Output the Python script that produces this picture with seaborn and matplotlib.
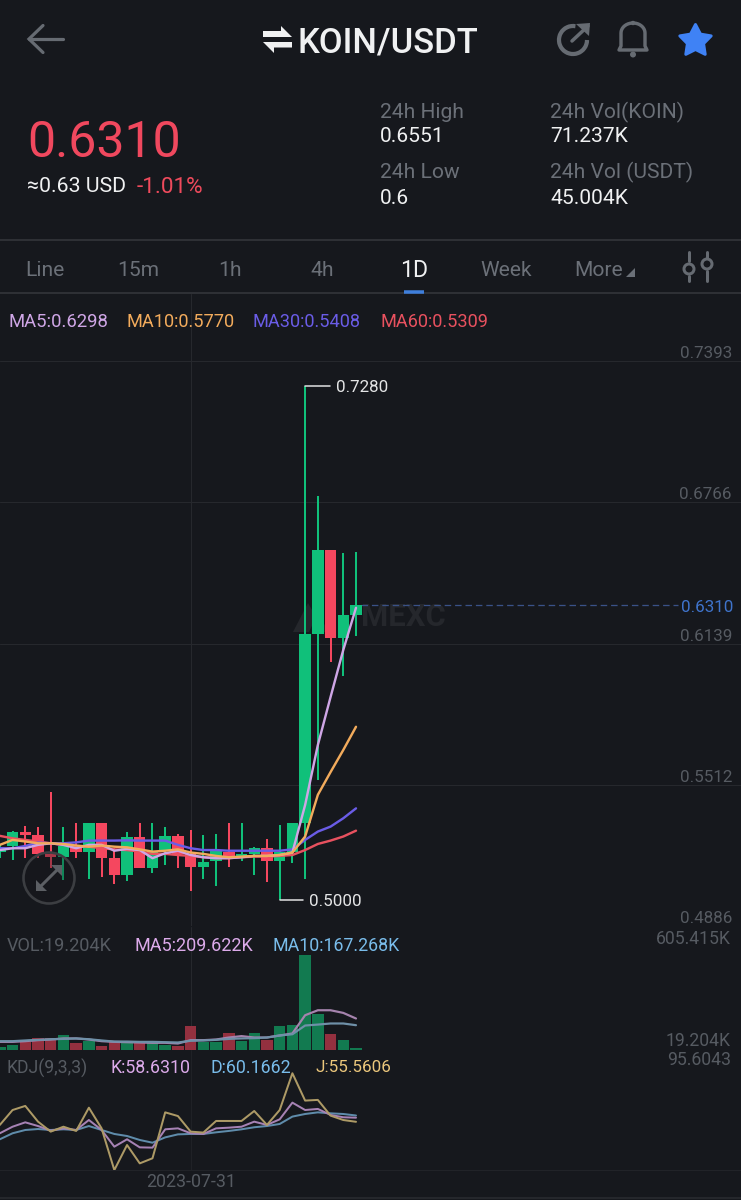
import numpy as np
import pandas as pd
import matplotlib
matplotlib.use("Agg")
import matplotlib.pyplot as plt
from matplotlib.patches import Circle, Polygon, Arc
import seaborn as sns

# ---------- data ----------
opens  = [.5216,.5243,.5302,.5290,.5206,.5194,.5231,.5213,.5345,.5187,.5114,.5280,.5144,.5220,.5287,.5206,.5150,.5173,.5216,.5187,.5206,.5231,.5176,.5216,.5345,.6182,.6554,.6164,.6266]
closes = [.5238,.5305,.5290,.5206,.5194,.5243,.5213,.5345,.5187,.5114,.5280,.5144,.5220,.5287,.5206,.5150,.5172,.5223,.5187,.5206,.5231,.5176,.5216,.5345,.6182,.6554,.6164,.6266,.6310]
highs  = [.5245,.5309,.5331,.5324,.5479,.5324,.5345,.5345,.5345,.5231,.5305,.5345,.5345,.5324,.5293,.5312,.5290,.5293,.5345,.5345,.5238,.5274,.5334,.5345,.7280,.6794,.6554,.6543,.6546]
lows   = [.5187,.5179,.5187,.5187,.5142,.5090,.5187,.5093,.5102,.5073,.5087,.5144,.5123,.5155,.5144,.5043,.5096,.5064,.5147,.5176,.5112,.5083,.5000,.5167,.5093,.5534,.6058,.5995,.6173]
ma5  = [.5223,.5231,.5231,.5246,.5253,.5246,.5231,.5246,.5246,.5220,.5228,.5223,.5187,.5209,.5220,.5201,.5191,.5187,.5187,.5191,.5197,.5197,.5201,.5212,.5423,.5689,.5902,.6111,.6298]
ma10 = [.5246,.5268,.5261,.5253,.5253,.5250,.5243,.5238,.5243,.5238,.5235,.5226,.5216,.5220,.5226,.5212,.5206,.5197,.5191,.5194,.5197,.5197,.5201,.5212,.5283,.5468,.5569,.5667,.5770]
ma30 = [.5231,.5231,.5241,.5256,.5253,.5253,.5257,.5265,.5265,.5265,.5266,.5265,.5265,.5265,.5246,.5231,.5223,.5223,.5220,.5220,.5220,.5220,.5220,.5226,.5268,.5305,.5327,.5364,.5408]
ma60 = [.5286,.5275,.5268,.5261,.5253,.5246,.5241,.5238,.5231,.5226,.5223,.5216,.5206,.5206,.5201,.5197,.5191,.5187,.5187,.5191,.5194,.5194,.5197,.5201,.5223,.5250,.5265,.5283,.5309]
volume = [15,30,49,77,77,90,39,56,21,49,43,43,43,28,21,154,49,49,103,54,103,64,152,156,605.415,227,98,58,8]
vol_ma5  = [49,49,53.5,60,64,71,71,64,53.5,49,47,45,43,43,38.5,60,60,64,77,86,77,77,90,103,220,252,252,235,199]
vol_ma10 = [53.5,53.5,58,62,66,68,71,66,58,51,51,49,49,47,45,56,58,62,68,71,73,77,90,98,154,160,167,167,156]
kdj_j = [53.3,64.2,67.2,55.7,48.4,52.0,48.9,65.9,50.8,20.3,38.6,25.2,28.9,62.5,59.8,48.4,47.7,56.2,56.2,56.2,63.5,53.3,64.2,91.1,71.1,71.6,60.1,56.9,55.6]
kdj_k = [47.2,52.0,55.2,52.5,49.1,50.8,49.6,56.9,49.6,37.4,42.8,36.9,36.7,50.1,50.8,47.2,46.7,50.8,51.3,52.0,55.7,53.3,57.4,69.6,64.2,65.0,60.6,58.9,58.6]
kdj_d = [42.8,47.2,49.6,50.3,49.6,50.1,49.6,52.5,49.6,46.7,45.2,42.3,40.3,44.2,46.4,46.7,46.7,47.9,48.9,50.1,51.6,52.5,54.0,59.4,61.3,62.5,61.8,61.3,60.2]
price_ticks = [0.4886, 0.5512, 0.6139, 0.6766, 0.7393]
date_index = 15
date_label = "2023-07-31"

# ---------- colours ----------
BG = "#16181d"; LINE = "#26282d"; SEP = "#2e3035"
GREEN = "#10c07a"; RED = "#f5475f"; VGREEN = "#127a50"; VRED = "#94303f"
GREY = "#6b7078"; AXT = "#565b62"; WHITE = "#f0f1f2"
C_MA5 = "#cfa6e6"; C_MA10 = "#f2ab5c"; C_MA30 = "#6a5ce6"; C_MA60 = "#e8515f"

W, H = 741, 1200
sns.set_theme(style="dark", rc={"figure.facecolor": BG, "axes.facecolor": "none",
                                "savefig.facecolor": BG, "patch.edgecolor": "none"})
plt.rcParams["font.family"] = ["Roboto", "DejaVu Sans"]
fig = plt.figure(figsize=(W/100, H/100), dpi=100)
px = 0.72  # pt per pixel at dpi 100

def band(top, bottom):
    return [0, 1 - bottom/H, 1, (bottom-top)/H]

idx = np.arange(len(opens))
X0, DX = -0.16, 12.72
xlim = ((0 - X0)/DX, (W - X0)/DX)
p2i = lambda x: (x - X0)/DX

ui = fig.add_axes([0, 0, 1, 1], zorder=5); ui.set_xlim(0, W); ui.set_ylim(H, 0); ui.axis("off")
ax = fig.add_axes(band(361, 926), zorder=2)
av = fig.add_axes(band(927, 1049.5), zorder=2)
ak = fig.add_axes(band(1050, 1170), zorder=2)

# ---------- price panel ----------
ax.set_xlim(*xlim); ax.set_ylim(price_ticks[0], price_ticks[-1])
ax.set_yticks(price_ticks); ax.set_yticklabels([f"{t:.4f}" for t in price_ticks])
ax.yaxis.tick_right()
ax.tick_params(axis="y", length=0, pad=-6.5, labelsize=17*px, labelcolor=AXT)
for t in ax.get_yticklabels():
    t.set_ha("right"); t.set_va("bottom")
ax.set_xticks([])
ax.grid(axis="y", color=LINE, lw=1.1*px, zorder=0)
ax.set_axisbelow(True)
for s in ax.spines.values():
    s.set_visible(False)
ax.axvline(date_index, color=LINE, lw=1*px, zorder=0)

ax.text(403.5, 617, "MEXC", transform=ui.transData, fontsize=31*px, weight="bold",
        color="#25272c", ha="center", va="center", zorder=0.6)
ax.add_patch(Polygon([(293, 632), (308, 603), (316, 617), (309, 632)], transform=ui.transData,
                     fc="#25272c", ec="none", zorder=0.6))
ax.add_patch(Polygon([(312, 632), (320, 617), (329, 632)], transform=ui.transData,
                     fc="#25272c", ec="none", zorder=0.6))

cols = [GREEN if c >= o else RED for o, c in zip(opens, closes)]
ax.vlines(idx, lows, highs, colors=cols, lw=2*px, zorder=2)
ax.bar(idx, np.abs(np.array(closes)-np.array(opens)), bottom=np.minimum(opens, closes),
       width=0.9, color=cols, edgecolor="none", zorder=3)
for series, c, lw in [(ma60, C_MA60, 2.4), (ma30, C_MA30, 2.4), (ma5, C_MA5, 2.4), (ma10, C_MA10, 2.4)]:
    sns.lineplot(x=idx, y=series, ax=ax, color=c, lw=lw*px, errorbar=None, zorder=4)
ax.set_xlabel(""); ax.set_ylabel("")
ax.set_xlim(*xlim); ax.set_ylim(price_ticks[0], price_ticks[-1])
ax.hlines(closes[-1], idx[-1]+0.4, p2i(678), colors="#3a5288", lw=1.3*px,
          linestyles=(0, (5, 3)), zorder=2)

# high / low leaders
hi = int(np.argmax(highs)); lo = int(np.argmin(lows))
ax.plot([hi, p2i(330)], [highs[hi]]*2, color="#d8d9da", lw=1.6*px, zorder=4)
ax.plot([lo, p2i(303)], [lows[lo]]*2, color="#d8d9da", lw=1.6*px, zorder=4)
ax.text(p2i(336), highs[hi], f"{highs[hi]:.4f}", color="#e4e5e6", fontsize=17*px, va="center_baseline", zorder=5)
ax.text(p2i(309), lows[lo], f"{lows[lo]:.4f}", color="#e4e5e6", fontsize=17*px, va="center_baseline", zorder=5)

# ---------- volume panel ----------
vdf = pd.DataFrame({"i": idx, "v": volume, "d": ["up" if c == GREEN else "dn" for c in cols]})
sns.barplot(data=vdf, x="i", y="v", hue="d", native_scale=True, dodge=False, width=0.9,
            palette={"up": VGREEN, "dn": VRED}, saturation=1, legend=False, ax=av, zorder=2,
            edgecolor="none", linewidth=0)
sns.lineplot(x=idx, y=vol_ma5, ax=av, color="#a583ad", lw=2.2*px, errorbar=None, zorder=3)
sns.lineplot(x=idx, y=vol_ma10, ax=av, color="#6f90a8", lw=2.2*px, errorbar=None, zorder=3)
av.set_xlim(*xlim); av.set_ylim(0, 122.5*6.42)
av.set_xticks([]); av.set_yticks([]); av.set_xlabel(""); av.set_ylabel("")
for k, s in av.spines.items():
    s.set_visible(False)
av.axhline(0, color=LINE, lw=1*px, zorder=1)
av.axvline(date_index, color=LINE, lw=1*px, zorder=0)

# ---------- KDJ panel ----------
sns.lineplot(x=idx, y=kdj_d, ax=ak, color="#5f8cab", lw=2*px, errorbar=None, zorder=3)
sns.lineplot(x=idx, y=kdj_k, ax=ak, color="#a682b4", lw=2*px, errorbar=None, zorder=3)
sns.lineplot(x=idx, y=kdj_j, ax=ak, color="#ad9a66", lw=2*px, errorbar=None, zorder=3)
ak.set_xlim(*xlim); ak.set_ylim(20.34, 108.1)
ak.set_xlabel(""); ak.set_ylabel(""); ak.set_yticks([])
ak.set_xticks([date_index]); ak.set_xticklabels([date_label])
ak.tick_params(axis="x", length=0, pad=2.5, labelsize=17.8*px, labelcolor=AXT)
for k, s in ak.spines.items():
    s.set_visible(k == "bottom")
ak.spines["bottom"].set_color("#212328"); ak.spines["bottom"].set_linewidth(1*px)
ak.axvline(date_index, color="#1f2126", lw=1*px, zorder=0)

# ---------- chrome ----------
def T(x, y, s, c=WHITE, size=21, ha="left", **kw):
    ui.text(x, y, s, color=c, fontsize=size*px, ha=ha, va="center_baseline", **kw)

ui.plot([0, W], [239.5, 239.5], color=SEP, lw=2*px)
ui.plot([0, W], [293, 293], color=SEP, lw=2*px)
ui.plot([190.5, 190.5], [294, 361], color=LINE, lw=1*px)
ui.plot([0, W], [1197.5, 1197.5], color="#2a2c31", lw=1.5*px)

T(298, 39.5, "KOIN/USDT", WHITE, 34.7, weight="medium")
T(27, 138, "0.6310", "#f0485e", 50)
T(27, 185, "≈0.63 USD", WHITE, 21.3)
T(137, 185, "-1.01%", "#ef4a5c", 22.5)
T(380, 110, "24h High", GREY); T(380, 135, "0.6551")
T(380, 170, "24h Low", GREY); T(380, 197, "0.6")
T(550, 110, "24h Vol(KOIN)", GREY); T(550, 135, "71.237K")
T(550, 170, "24h Vol (USDT)", GREY); T(550, 197, "45.004K")
for x, s in [(45, "Line"), (138, "15m"), (230, "1h"), (322, "4h"), (506, "Week")]:
    T(x, 268, s, GREY, ha="center")
T(414, 268, "1D", WHITE, 23, ha="center")
T(574, 268, "More", GREY)
ui.add_patch(Polygon([(626, 277), (635, 277), (635, 268)], fc=GREY, ec="none"))
ui.plot([404, 424], [291.5, 291.5], color="#3f7fdc", lw=3.5*px, solid_capstyle="butt")

T(8, 320, "MA5:0.6298", C_MA5, 18.5)
T(126, 320, "MA10:0.5770", C_MA10, 18.2)
T(253, 320, "MA30:0.5408", C_MA30, 18.2)
T(381, 320, "MA60:0.5309", C_MA60, 18.2)

ui.text(733, 606.5, "0.6310", color="#3f74cc", fontsize=17*px, ha="right", va="center_baseline",
        bbox=dict(fc=BG, ec="none", pad=1.5))
T(731, 937, "605.415K", AXT, 17.6, ha="right")
T(731, 1039, "19.204K", AXT, 17.6, ha="right")
T(731, 1058, "95.6043", AXT, 17.6, ha="right")
T(7, 944, "VOL:19.204K", AXT, 18.2)
T(134, 944, "MA5:209.622K", "#dcaaea", 18)
T(272, 944, "MA10:167.268K", "#79bcea", 17.8)
T(7, 1066, "KDJ(9,3,3)", AXT, 17.6)
T(110, 1066, "K:58.6310", "#dcaaea", 17.7)
T(211, 1066, "D:60.1662", "#79bcea", 17.7)
T(315, 1066, "J:55.5606", "#ecc77c", 17)

# icons
IC = "#666b72"
ui.plot([63, 29], [39, 39], color=IC, lw=3.2*px, solid_capstyle="round")
ui.plot([43, 29, 43], [25.5, 39, 52.5], color=IC, lw=3.2*px, solid_capstyle="round", solid_joinstyle="miter")
# swap arrows
ui.add_patch(Polygon([(263, 31), (281, 31), (281, 26), (292, 37), (263, 37)], fc=WHITE, ec="none"))
ui.add_patch(Polygon([(292, 42), (263, 42), (274, 53), (274, 47.5), (292, 47.5)], fc=WHITE, ec="none"))
# refresh
ui.add_patch(Arc((573, 40), 28, 28, theta1=0, theta2=280, ec=IC, lw=4.2*px))
ui.plot([572, 588], [41, 26], color=IC, lw=3.5*px)
ui.add_patch(Polygon([(576, 24), (590, 23), (589, 36)], fc=IC, ec="none"))
# bell
bell = [(619, 50), (621, 46), (621, 33)]
th = np.linspace(np.pi, 0, 20)
bell += list(zip(633 + 12*np.cos(th), 33 - 10*np.sin(th)))
bell += [(645, 46), (647, 50)]
ui.add_patch(Polygon(bell, fc="none", ec=IC, lw=3.4*px, closed=True, joinstyle="round"))
ui.add_patch(Circle((633, 23), 2.2, fc=IC, ec="none"))
ui.add_patch(Circle((633, 54.5), 3, fc=IC, ec="none"))
# star
ang = np.deg2rad(-90 + 36*np.arange(10))
rad = np.where(np.arange(10) % 2 == 0, 16.5, 8.5)
ui.add_patch(Polygon(list(zip(695.5 + rad*np.cos(ang), 41 + rad*np.sin(ang))),
                     fc="#3f82f5", ec="#3f82f5", lw=3*px, joinstyle="round"))
# sliders
ui.plot([689, 689], [252, 261], color=IC, lw=3*px); ui.plot([689, 689], [276, 281], color=IC, lw=3*px)
ui.plot([707, 707], [252, 258], color=IC, lw=3*px); ui.plot([707, 707], [271, 281], color=IC, lw=3*px)
ui.add_patch(Circle((689, 269), 5, fc="none", ec=IC, lw=3*px))
ui.add_patch(Circle((707, 264), 5, fc="none", ec=IC, lw=3*px))
# zoom button
ui.add_patch(Circle((49, 878), 25.5, fc=(0.09, 0.09, 0.11, 0.35), ec="#3c3e42", lw=2.6*px))
ui.plot([40, 58], [887, 869], color="#5c5f64", lw=3*px)
ui.add_patch(Polygon([(36, 891), (36, 880), (47, 891)], fc="#5c5f64", ec="none"))
ui.add_patch(Polygon([(62, 865), (51, 865), (62, 876)], fc="#5c5f64", ec="none"))

fig.savefig("out.png", dpi=100)
